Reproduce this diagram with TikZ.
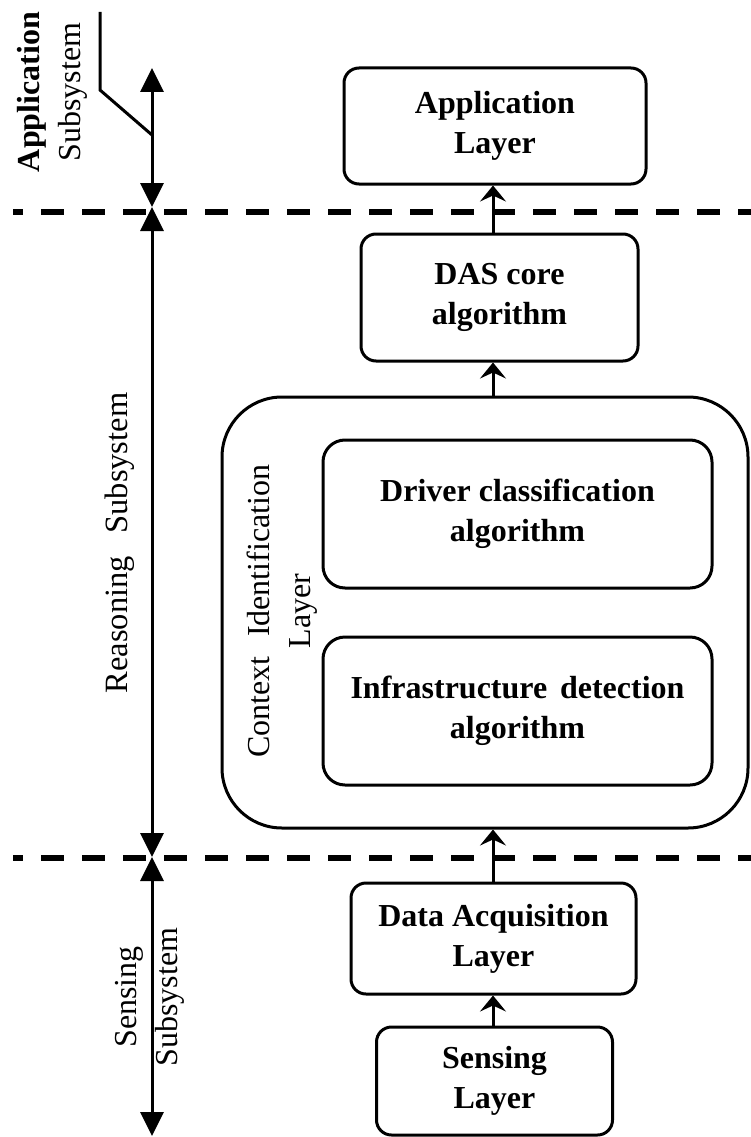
\documentclass[tikz,border=0pt]{standalone}
\usepackage{fontspec}
\setmainfont{Liberation Serif}
\usetikzlibrary{arrows.meta}

\tikzset{
  box/.style={draw, line width=3pt, rounded corners=15pt, align=center,
    inner sep=0pt, font=\fontsize{32}{40}\selectfont\bfseries},
  layerbox/.style={draw, line width=3pt, rounded corners=60pt, inner sep=0pt},
  lab/.style={align=center, inner sep=0pt, font=\fontsize{32}{41}\selectfont},
  flow/.style={line width=3pt,
    -{Stealth[length=16pt,width=26pt,inset=6pt]}},
  span/.style={line width=3pt,
    {Triangle[length=24pt,width=23pt]}-{Triangle[length=24pt,width=23pt]}},
  cutline/.style={line width=6.5pt, dash pattern=on 23pt off 18pt, dash phase=13pt},
  leader/.style={line width=3pt}
}

\begin{document}
\begin{tikzpicture}[x=1pt,y=-1pt]
\useasboundingbox (0,0) rectangle (751,1137);

% subsystem boundaries
\coordinate (cutAL) at (13,212);
\coordinate (cutAR) at (751,212);
\coordinate (cutBL) at (13,858);
\coordinate (cutBR) at (751,858);
\draw[cutline] (cutAL) -- (cutAR);
\draw[cutline] (cutBL) -- (cutBR);

% layer boxes
\node[box, minimum width=302pt, minimum height=116pt] (app) at (495,126) {Application\\Layer};
\node[box, minimum width=277pt, minimum height=127pt] (das) at (499.5,297.5) {DAS core\\algorithm};
\node[layerbox, minimum width=526pt, minimum height=431pt] (ctx) at (485,612.5) {};
\node[box, rounded corners=22pt, minimum width=389pt, minimum height=148pt] (drv) at (517.5,514) {Driver classification\\algorithm};
\node[box, rounded corners=22pt, minimum width=389pt, minimum height=148pt] (inf) at (517.5,711) {Infrastructure\hspace{0.4em}detection\\algorithm};
\node[lab, rotate=90] (ctxlab) at (282,611) {Context\hspace{0.6em}Identification\\Layer};
\node[box, minimum width=285pt, minimum height=111pt] (daq) at (493.5,938.5) {Data Acquisition\\Layer};
\node[box, minimum width=236pt, minimum height=108pt] (sens) at (494.5,1081) {Sensing\\Layer};

% data flow between layers
\coordinate (spine) at (493,0);
\draw[flow] (sens.north -| spine) -- (daq.south -| spine);
\draw[flow] (daq.north -| spine) -- (ctx.south -| spine);
\draw[flow] (ctx.north -| spine) -- (das.south -| spine);
\draw[flow] (das.north -| spine) -- (app.south -| spine);

% subsystem extents
\coordinate (appTop) at (152,68);
\coordinate (cutA) at (152,207);
\coordinate (cutB) at (152,857);
\coordinate (sensBot) at (152,1136);
\draw[span] (appTop) -- (cutA);
\draw[span] (cutA) -- (cutB);
\draw[span] (cutB) -- (sensBot);

% leader for the application label
\coordinate (leadTop) at (100,12);
\coordinate (leadKnee) at (100,90);
\coordinate (leadEnd) at (152,135);
\draw[leader] (leadTop) -- (leadKnee) -- (leadEnd);

% subsystem labels
\node[lab, rotate=90] (applab) at (52,92) {{\bfseries Application}\\Subsystem};
\node[lab, rotate=90, font=\fontsize{32.5}{41}\selectfont] (reaslab) at (120,543) {Reasoning\hspace{0.7em}Subsystem};
\node[lab, rotate=90] (senslab) at (150,997) {Sensing\\Subsystem};
\end{tikzpicture}
\end{document}
